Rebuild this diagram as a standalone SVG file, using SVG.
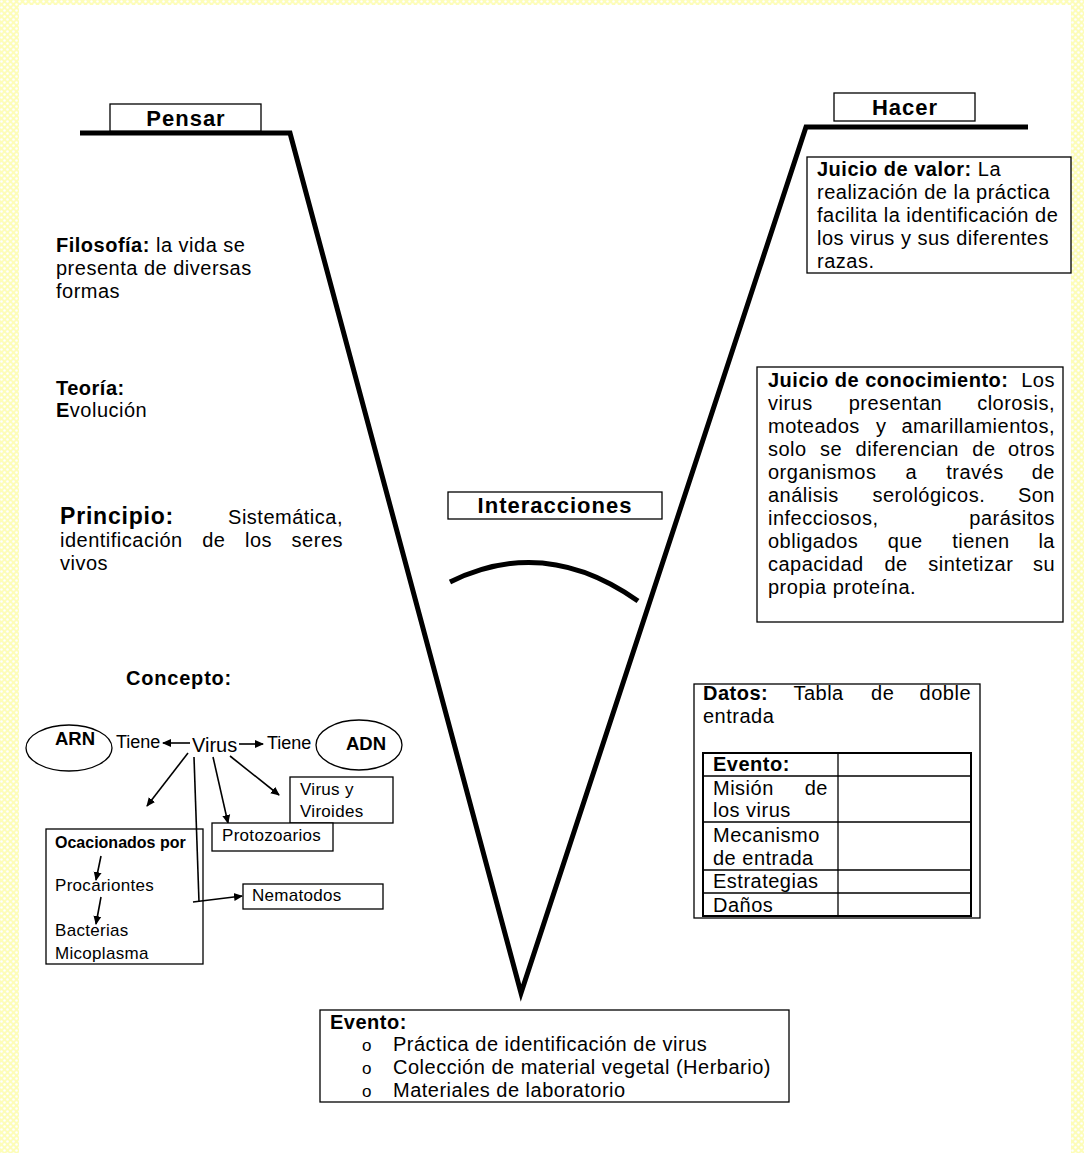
<svg xmlns="http://www.w3.org/2000/svg" width="1084" height="1153" viewBox="0 0 1084 1153">
<defs>
<pattern id="dots" width="6" height="6" patternUnits="userSpaceOnUse">
<rect width="6" height="6" fill="#fdfdb8"/>
<circle cx="1.5" cy="1.5" r="1.3" fill="#ffffff"/>
<circle cx="4.5" cy="4.5" r="1.3" fill="#ffffff"/>
</pattern>
<marker id="ah" markerWidth="10" markerHeight="10" refX="8" refY="5" orient="auto" markerUnits="userSpaceOnUse">
<path d="M0,1 L9,5 L0,9 Z" fill="#000"/>
</marker>
<style>
text{font-family:"Liberation Sans",Arial,sans-serif;fill:#000;}
.t{font-size:20px;letter-spacing:0.5px;}
.b{font-weight:bold;}
.h{font-size:22px;font-weight:bold;letter-spacing:1px;}
.s{font-size:17px;letter-spacing:0.3px;}
.sb{font-size:16px;font-weight:bold;}
.box{fill:#fff;stroke:#000;stroke-width:1.3;}
.thin{fill:none;stroke:#000;stroke-width:1.3;}
.con{fill:none;stroke:#000;stroke-width:1.6;}
.thick{fill:none;stroke:#000;stroke-width:5;}
</style>
</defs>
<rect x="0" y="0" width="1084" height="1153" fill="url(#dots)"/>
<rect x="19" y="5" width="1052" height="1148" fill="#fff"/>

<g id="connectors">
<polyline class="thick" points="80,133 290,133 521,993 806,127 1028,127" stroke-linejoin="miter"/>
<path class="thick" d="M450,582 Q545,535 638,601"/>
<line class="con" x1="190" y1="743" x2="163" y2="743" marker-end="url(#ah)"/>
<line class="con" x1="239" y1="744" x2="263" y2="744" marker-end="url(#ah)"/>
<line class="con" x1="188" y1="753" x2="147" y2="806" marker-end="url(#ah)"/>
<line class="con" x1="213" y1="757" x2="228" y2="823" marker-end="url(#ah)"/>
<line class="con" x1="230" y1="756" x2="279" y2="795" marker-end="url(#ah)"/>
<polyline class="con" points="194,757 199,902"/>
<line class="con" x1="193" y1="902" x2="242" y2="896" marker-end="url(#ah)"/>
<line class="con" x1="101" y1="856" x2="96" y2="880" marker-end="url(#ah)"/>
<line class="con" x1="101" y1="897" x2="96" y2="924" marker-end="url(#ah)"/>
</g>

<g id="pensar">
<rect class="box" x="110" y="104" width="151" height="27"/>
<text class="h" x="186" y="126" text-anchor="middle">Pensar</text>
</g>

<g id="hacer">
<rect class="box" x="834" y="93" width="141" height="28"/>
<text class="h" x="905" y="115" text-anchor="middle">Hacer</text>
</g>

<g id="juicio-valor">
<rect class="box" x="807" y="157" width="264" height="116"/>
<text class="t" x="817" y="176"><tspan class="b">Juicio de valor:</tspan> La</text>
<text class="t" x="817" y="199">realización de la práctica</text>
<text class="t" x="817" y="222">facilita la identificación de</text>
<text class="t" x="817" y="245">los virus y sus diferentes</text>
<text class="t" x="817" y="268">razas.</text>
</g>

<g id="juicio-conocimiento">
<rect class="box" x="757" y="367" width="306" height="255"/>
<text class="t b" x="768" y="387">Juicio de conocimiento:</text>
<text class="t" x="1055" y="387" text-anchor="end">Los</text>
<text class="t" x="768" y="410">virus</text><text class="t" x="848.7" y="410">presentan</text><text class="t" x="1055" y="410" text-anchor="end">clorosis,</text>
<text class="t" x="768" y="433">moteados</text><text class="t" x="876" y="433">y</text><text class="t" x="1055" y="433" text-anchor="end">amarillamientos,</text>
<text class="t" x="768" y="456">solo</text><text class="t" x="820" y="456">se</text><text class="t" x="855.6" y="456">diferencian</text><text class="t" x="972.3" y="456">de</text><text class="t" x="1055" y="456" text-anchor="end">otros</text>
<text class="t" x="768" y="479">organismos</text><text class="t" x="905.5" y="479">a</text><text class="t" x="946.2" y="479">través</text><text class="t" x="1055" y="479" text-anchor="end">de</text>
<text class="t" x="768" y="502">análisis</text><text class="t" x="872.5" y="502">serológicos.</text><text class="t" x="1055" y="502" text-anchor="end">Son</text>
<text class="t" x="768" y="525">infecciosos,</text><text class="t" x="1055" y="525" text-anchor="end">parásitos</text>
<text class="t" x="768" y="548">obligados</text><text class="t" x="887.7" y="548">que</text><text class="t" x="952.2" y="548">tienen</text><text class="t" x="1055" y="548" text-anchor="end">la</text>
<text class="t" x="768" y="571">capacidad</text><text class="t" x="884.4" y="571">de</text><text class="t" x="928.3" y="571">sintetizar</text><text class="t" x="1055" y="571" text-anchor="end">su</text>
<text class="t" x="768" y="594">propia proteína.</text>
</g>

<g id="filosofia">
<text class="t" x="56" y="252"><tspan class="b">Filosofía:</tspan> la vida se</text>
<text class="t" x="56" y="275">presenta de diversas</text>
<text class="t" x="56" y="298">formas</text>
</g>

<g id="teoria">
<text class="t b" x="56" y="395">Teoría:</text>
<text class="t" x="56" y="417"><tspan class="b">E</tspan>volución</text>
</g>

<g id="principio">
<text x="60" y="524" style="font-size:23px;font-weight:bold;letter-spacing:0.8px">Principio:</text>
<text class="t" x="343" y="524" text-anchor="end">Sistemática,</text>
<text class="t" x="60" y="547">identificación</text><text class="t" x="202.2" y="547">de</text><text class="t" x="245" y="547">los</text><text class="t" x="343" y="547" text-anchor="end">seres</text>
<text class="t" x="60" y="570">vivos</text>
</g>

<g id="interacciones">
<rect class="box" x="448" y="492" width="214" height="27"/>
<text class="h" x="555" y="513" text-anchor="middle">Interacciones</text>
</g>

<g id="concepto">
<text class="b" x="126" y="685" style="font-size:20px;letter-spacing:0.8px">Concepto:</text>
</g>

<g id="arn">
<ellipse class="thin" cx="69" cy="748" rx="43" ry="23"/>
<text class="b" x="55" y="745" style="font-size:18.5px">ARN</text>
</g>
<g id="tiene-izq"><text x="116" y="748" style="font-size:18px">Tiene</text></g>
<g id="virus"><text x="192" y="752" style="font-size:20px">Virus</text></g>
<g id="tiene-der"><text x="267" y="749" style="font-size:18px">Tiene</text></g>
<g id="adn">
<ellipse class="thin" cx="359" cy="745" rx="43" ry="25"/>
<text class="b" x="346" y="750" style="font-size:18.5px">ADN</text>
</g>

<g id="virus-viroides">
<rect class="box" x="290" y="777" width="103" height="46"/>
<text class="s" x="300" y="795">Virus y</text>
<text class="s" x="300" y="817">Viroides</text>
</g>

<g id="protozoarios">
<rect class="box" x="212" y="823" width="121" height="28"/>
<text class="s" x="222" y="841">Protozoarios</text>
</g>

<g id="ocacionados">
<rect class="thin" x="46" y="829" width="157" height="135"/>
<text class="sb" x="55" y="848">Ocacionados por</text>
<text class="s" x="55" y="891">Procariontes</text>
<text class="s" x="55" y="936">Bacterias</text>
<text class="s" x="55" y="959">Micoplasma</text>
</g>

<g id="nematodos">
<rect class="box" x="243" y="884" width="140" height="25"/>
<text class="s" x="252" y="901">Nematodos</text>
</g>

<g id="datos">
<rect class="box" x="694" y="684" width="286" height="234"/>
<text class="t b" x="703" y="700">Datos:</text>
<text class="t" x="793.4" y="700">Tabla</text><text class="t" x="871.1" y="700">de</text><text class="t" x="971" y="700" text-anchor="end">doble</text>
<text class="t" x="703" y="723">entrada</text>
<rect x="703" y="753" width="268" height="163" fill="none" stroke="#000" stroke-width="2"/>
<line class="thin" x1="838" y1="753" x2="838" y2="916" stroke-width="2"/>
<line class="thin" x1="703" y1="776" x2="971" y2="776" stroke-width="2"/>
<line class="thin" x1="703" y1="822" x2="971" y2="822" stroke-width="2"/>
<line class="thin" x1="703" y1="870" x2="971" y2="870" stroke-width="2"/>
<line class="thin" x1="703" y1="893" x2="971" y2="893" stroke-width="2"/>
<text class="t b" x="713" y="771">Evento:</text>
<text class="t" x="713" y="795">Misión</text><text class="t" x="828" y="795" text-anchor="end">de</text>
<text class="t" x="713" y="817">los virus</text>
<text class="t" x="713" y="842">Mecanismo</text>
<text class="t" x="713" y="865">de entrada</text>
<text class="t" x="713" y="888">Estrategias</text>
<text class="t" x="713" y="912">Daños</text>
</g>

<g id="evento">
<rect class="box" x="320" y="1010" width="469" height="92"/>
<text class="t b" x="330" y="1029">Evento:</text>
<text x="362" y="1051" style="font-size:17px">o</text>
<text class="t" x="393" y="1051">Práctica de identificación de virus</text>
<text x="362" y="1074" style="font-size:17px">o</text>
<text class="t" x="393" y="1074">Colección de material vegetal (Herbario)</text>
<text x="362" y="1097" style="font-size:17px">o</text>
<text class="t" x="393" y="1097">Materiales de laboratorio</text>
</g>
</svg>
